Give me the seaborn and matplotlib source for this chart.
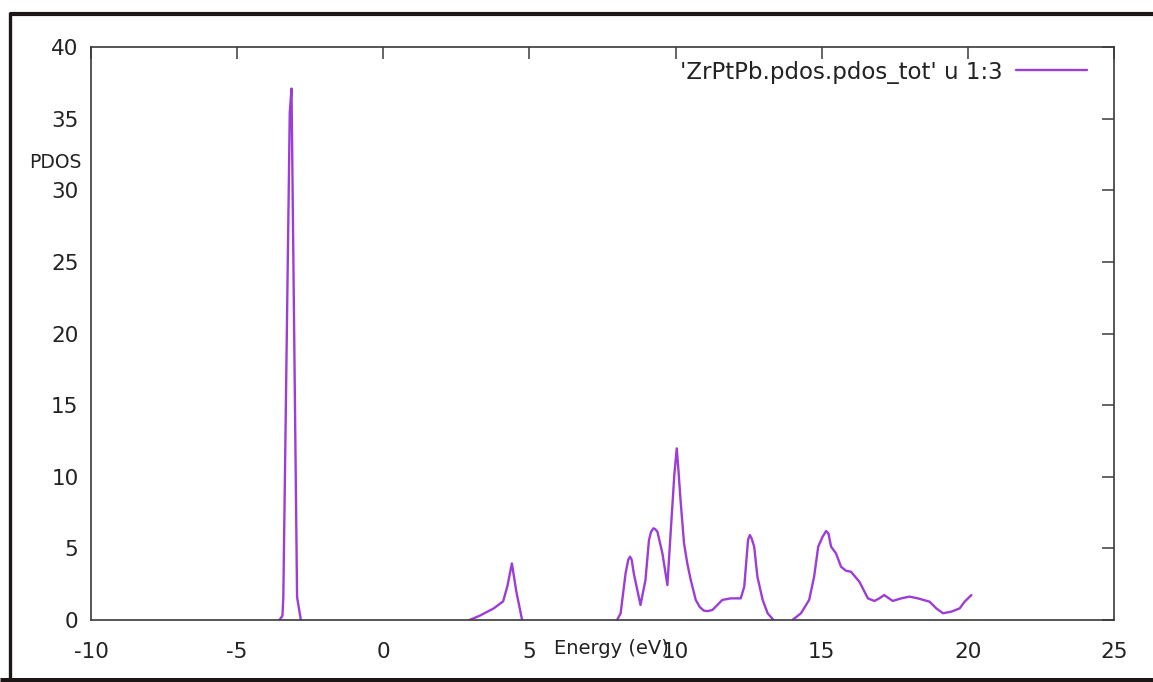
import numpy as np
import pandas as pd
import matplotlib
matplotlib.use("Agg")
import matplotlib.pyplot as plt
import seaborn as sns
from matplotlib.lines import Line2D

# Total PDOS of ZrPtPb (column 3 of ZrPtPb.pdos.pdos_tot), one array pair per band
band_a_energy = [-3.55, -3.45, -3.42, -3.20, -3.14, -2.95, -2.82]
band_a_pdos = [0.0, 0.3, 1.6, 35.4, 37.1, 1.6, 0.0]

band_b_energy = [2.95, 3.30, 3.77, 4.10, 4.25, 4.40, 4.55, 4.75]
band_b_pdos = [0.0, 0.3, 0.8, 1.3, 2.4, 3.95, 2.0, 0.0]

band_c_energy = [8.00, 8.12, 8.29, 8.38, 8.44, 8.50, 8.57, 8.80, 8.97, 9.09,
                 9.16, 9.24, 9.30, 9.38, 9.55, 9.72, 9.83, 9.96, 10.04, 10.10,
                 10.17, 10.29, 10.40, 10.52, 10.69, 10.83, 10.97, 11.10, 11.26,
                 11.60, 11.89, 12.23, 12.35, 12.48, 12.54, 12.60, 12.69, 12.80,
                 12.98, 13.15, 13.35]
band_c_pdos = [0.0, 0.47, 3.26, 4.20, 4.42, 4.20, 3.26, 1.05, 2.79, 5.58,
               6.15, 6.40, 6.35, 6.16, 4.65, 2.44, 6.05, 10.2, 11.98, 10.4,
               8.37, 5.35, 3.96, 2.79, 1.40, 0.90, 0.65, 0.62, 0.70,
               1.40, 1.51, 1.51, 2.33, 5.60, 5.93, 5.70, 5.12, 3.02,
               1.40, 0.47, 0.0]

band_d_energy = [14.00, 14.29, 14.57, 14.74, 14.88, 15.03, 15.15, 15.23, 15.32,
                 15.49, 15.66, 15.83, 16.00, 16.29, 16.58, 16.80, 16.97, 17.14,
                 17.43, 17.72, 18.00, 18.29, 18.69, 18.92, 19.15, 19.43, 19.72,
                 19.89, 20.12]
band_d_pdos = [0.0, 0.47, 1.40, 3.02, 5.12, 5.81, 6.21, 6.05, 5.12,
               4.65, 3.72, 3.44, 3.37, 2.67, 1.51, 1.33, 1.51, 1.74,
               1.33, 1.51, 1.63, 1.51, 1.28, 0.81, 0.47, 0.58, 0.81,
               1.28, 1.74]

x_ticks = [-10, -5, 0, 5, 10, 15, 20, 25]
y_ticks = [0, 5, 10, 15, 20, 25, 30, 35, 40]
series_label = "'ZrPtPb.pdos.pdos_tot' u 1:3"

bands = [band_a_energy, band_b_energy, band_c_energy, band_d_energy]
values = [band_a_pdos, band_b_pdos, band_c_pdos, band_d_pdos]
df = pd.concat(
    [pd.DataFrame({"energy": e, "pdos": p, "band": i})
     for i, (e, p) in enumerate(zip(bands, values))],
    ignore_index=True,
)

sns.set_theme(style="white")
plt.rcParams["font.family"] = ["DejaVu Sans"]
plt.rcParams["axes.unicode_minus"] = False

line_color = "#9d3dd8"
ink = "#3a3a3a"

fig = plt.figure(figsize=(11.53, 6.82), dpi=100)
fig.patch.set_facecolor("white")
ax = fig.add_axes([91 / 1153, 1 - 620 / 682, (1114 - 91) / 1153, (620 - 47) / 682])

sns.lineplot(data=df, x="energy", y="pdos", units="band", estimator=None,
             sort=False, color=line_color, linewidth=1.7, ax=ax, zorder=2)

ax.set_xlim(-10, 25)
ax.set_ylim(0, 40)
ax.set_xticks(x_ticks)
ax.set_yticks(y_ticks)
ax.set_xlabel("")
ax.set_ylabel("")

for s in ax.spines.values():
    s.set_visible(True)
    s.set_color(ink)
    s.set_linewidth(1.2)
    s.set_zorder(3)

ax.tick_params(axis="both", which="major", direction="in", length=8.5,
               width=1.1, color=ink, labelsize=15.5, labelcolor="#222222",
               top=True, right=True)
ax.tick_params(axis="x", pad=16)
ax.tick_params(axis="y", pad=9)

handle = Line2D([0], [0], color=line_color, linewidth=1.7)
ax.legend([handle], [series_label], loc="center right",
          bbox_to_anchor=((1087 - 91) / (1114 - 91), (620 - 72) / (620 - 47)),
          frameon=False, markerfirst=False, fontsize=16.5, borderpad=0,
          borderaxespad=0, handlelength=3.1, handletextpad=0.6,
          labelcolor="#222222")

fig.text(611 / 1153, 1 - 648 / 682, "Energy (eV)", ha="center", va="center",
         fontsize=14, color="#222222")
fig.text(55 / 1153, 1 - 163 / 682, "PDOS", ha="center", va="center",
         fontsize=13.5, color="#222222")

# dark window frame around the plot
frame = "#1c1616"
fig.add_artist(Line2D([9.5 / 1153, 1], [1 - 14 / 682, 1 - 14 / 682],
                      color=frame, linewidth=3.0, solid_capstyle="butt",
                      transform=fig.transFigure))
fig.add_artist(Line2D([9.5 / 1153, 9.5 / 1153], [0, 1 - 12 / 682],
                      color=frame, linewidth=2.4, solid_capstyle="butt",
                      transform=fig.transFigure))
fig.add_artist(Line2D([0, 1], [2.5 / 682, 2.5 / 682],
                      color=frame, linewidth=3.6, solid_capstyle="butt",
                      transform=fig.transFigure))

fig.savefig("out.png", dpi=100, facecolor="white")
